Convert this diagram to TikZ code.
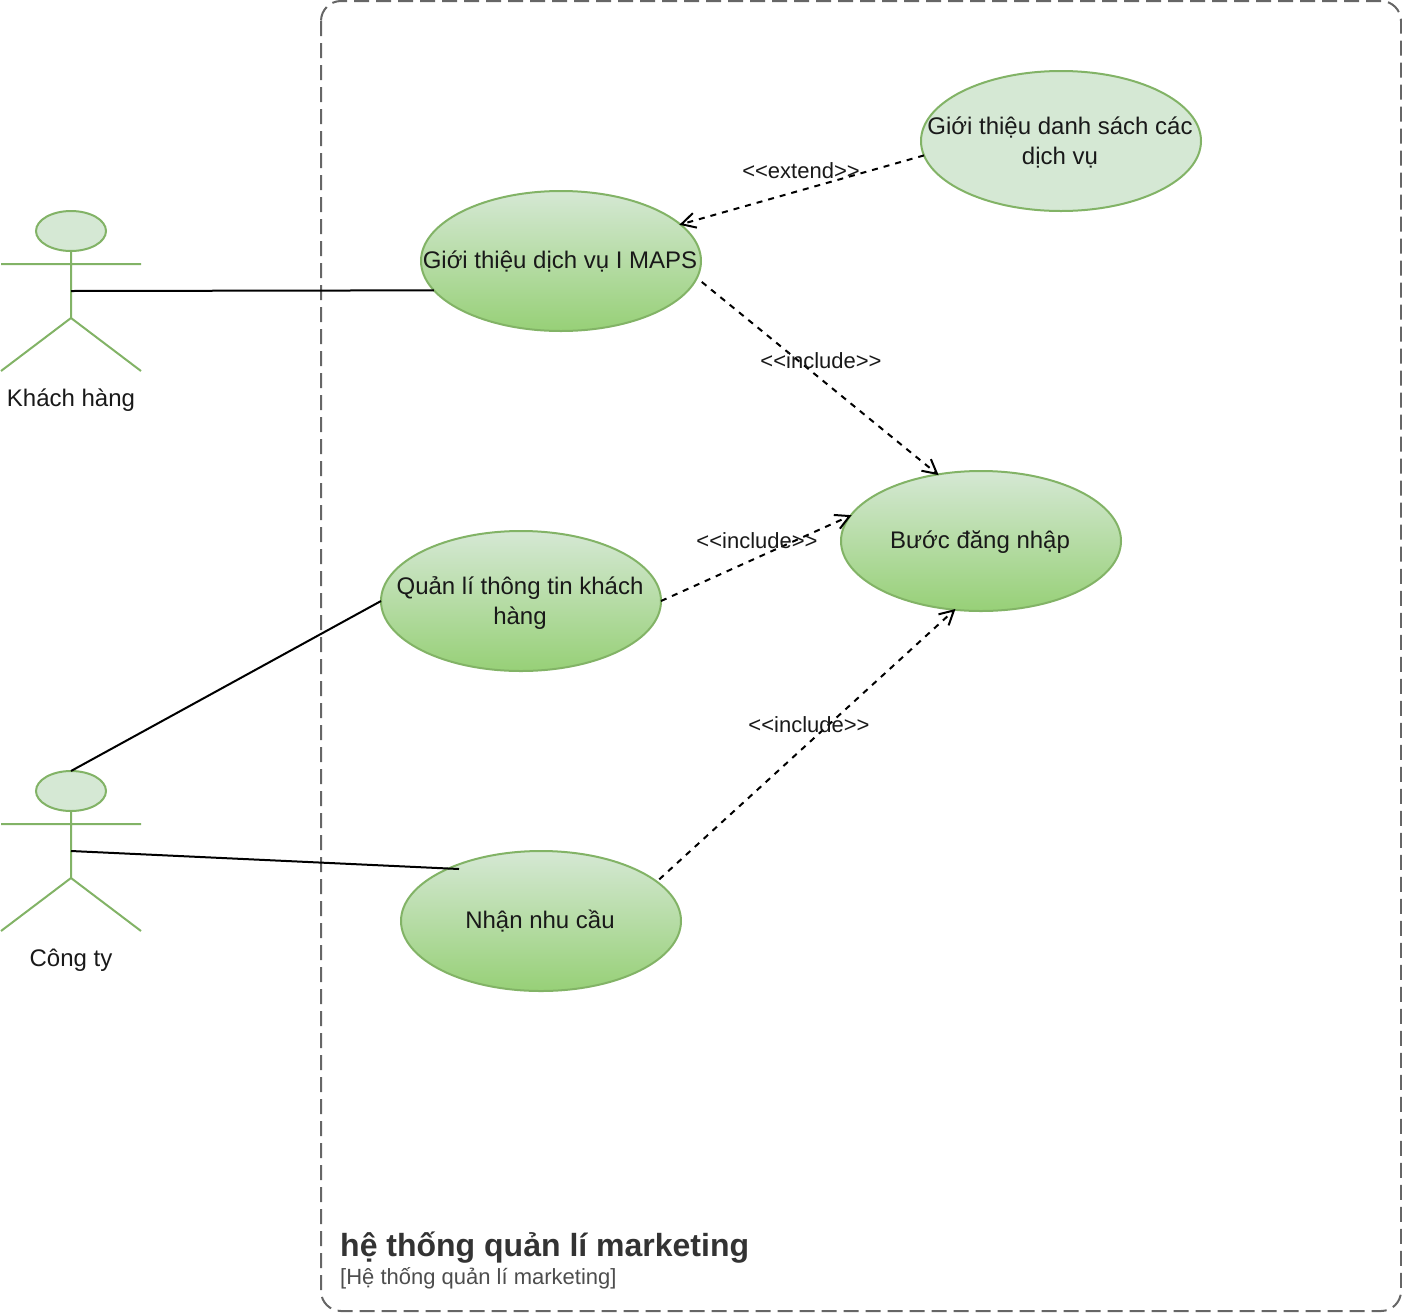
\documentclass[tikz,border=0pt]{standalone}
\usepackage{fontspec}
\setmainfont{Liberation Sans}
\usetikzlibrary{shapes.geometric,arrows.meta}
\definecolor{gstroke}{HTML}{82B366}
\definecolor{glight}{HTML}{D5E8D4}
\definecolor{gdark}{HTML}{97D077}
\definecolor{boxgray}{HTML}{666666}
\definecolor{titlegray}{HTML}{333333}
\definecolor{subgray}{HTML}{4D4D4D}
\pgfdeclarearrow{
  name=OpenVee,
  setup code={\pgfarrowssettipend{1pt}\pgfarrowssetlineend{-1pt}\pgfarrowssetbackend{-14pt}\pgfarrowssetvisualbackend{-14pt}},
  drawing code={\pgfsetdash{}{0pt}\pgfsetlinewidth{2pt}\pgfsetmiterjoin
    \pgfpathmoveto{\pgfpoint{-14pt}{7.5pt}}\pgfpathlineto{\pgfpointorigin}\pgfpathlineto{\pgfpoint{-14pt}{-7.5pt}}\pgfusepathqstroke},
}
\tikzset{
  usebase/.style 2 args={ellipse,draw=gstroke,line width=2pt,
    minimum width=280pt,minimum height=140pt,inner sep=0pt,outer sep=0pt,
    label={[usetext,xshift=-1pt,yshift=-#1pt]center:#2}},
  usecase/.style 2 args={usebase={#1}{#2},top color=glight,bottom color=gdark},
  usecaseflat/.style 2 args={usebase={#1}{#2},fill=glight},
  usetext/.style={font=\fontsize{24}{30}\selectfont,align=center,text=black!90,inner sep=0pt},
  actorhead/.style={ellipse,draw=gstroke,line width=2pt,fill=glight,minimum width=70pt,minimum height=40pt,inner sep=0pt,outer sep=0pt},
  actorline/.style={draw=gstroke,line width=2pt},
  actorname/.style={font=\fontsize{24}{30}\selectfont,text=black!90,inner sep=0pt},
  assoc/.style={draw=black,line width=2pt},
  dep/.style={draw=black,line width=2pt,dash pattern=on 6pt off 6pt,-{OpenVee}},
  deplabel/.style={font=\fontsize{22}{26}\selectfont,text=black!90,inner sep=0pt},
  sysbox/.style={draw=boxgray,line width=2pt,dash pattern=on 15pt off 7pt,rounded corners=20pt},
}
\begin{document}
\begin{tikzpicture}[x=1pt,y=-1pt]
\useasboundingbox (0,0) rectangle (1402,1312);
\draw[sysbox] (321,1) rectangle (1401,1311);
\node[anchor=base west,inner sep=0pt,font=\fontsize{32}{38}\bfseries\selectfont,text=titlegray] (systitle) at (340,1256) {hệ thống quản lí marketing};
\node[anchor=base west,inner sep=0pt,font=\fontsize{22}{26}\selectfont,text=subgray] (syssub) at (340,1284) {[Hệ thống quản lí marketing]};

\node[usecase={0}{Giới thiệu dịch vụ I MAPS}] (u1) at (561,261) {};
\node[usecaseflat={1}{Giới thiệu danh sách các\\dịch vụ}] (u2) at (1061,141) {};
\node[usecase={1}{Bước đăng nhập}] (u4) at (981,541) {};
\node[usecase={2}{Quản lí thông tin khách\\hàng}] (u3) at (521,601) {};
\node[usecase={0}{Nhận nhu cầu}] (u5) at (541,921) {};

% actors
\node[actorhead] (h1) at (71,231) {};
\coordinate (a1) at (71,291);
\draw[actorline] (h1.south) -- (71,318) (1,264) -- (141,264) (1,371) -- (71,318) -- (141,371);
\node[actorname] (n1) at (71,400) {Khách hàng};
\node[actorhead] (h2) at (71,791) {};
\coordinate (a2) at (71,851);
\draw[actorline] (h2.south) -- (71,878) (1,824) -- (141,824) (1,931) -- (71,878) -- (141,931);
\node[actorname] (n2) at (71,960) {Công ty};

% connectors
\coordinate (u5hit) at (459,869);
\draw[assoc] (a1) -- (u1.193);
\draw[assoc] (h2.north) -- (u3.west);
\draw[assoc] (a2) -- (u5hit);
\draw[dep] (u2.186) -- (u1.17);
\draw[dep] ([shift={(6,2)}]u1.-8.5) -- (u4.123.3);
\draw[dep] (u3.east) -- (u4.169.5);
\draw[dep] ([shift={(3,-2)}]u5.19.6) -- (u4.249.8);

\node[deplabel] (l1) at (801,171) {<{}<extend>{}>};
\node[deplabel] (l2) at (821,361) {<{}<include>{}>};
\node[deplabel] (l3) at (757,541) {<{}<include>{}>};
\node[deplabel] (l4) at (809,725) {<{}<include>{}>};
\end{tikzpicture}
\end{document}
